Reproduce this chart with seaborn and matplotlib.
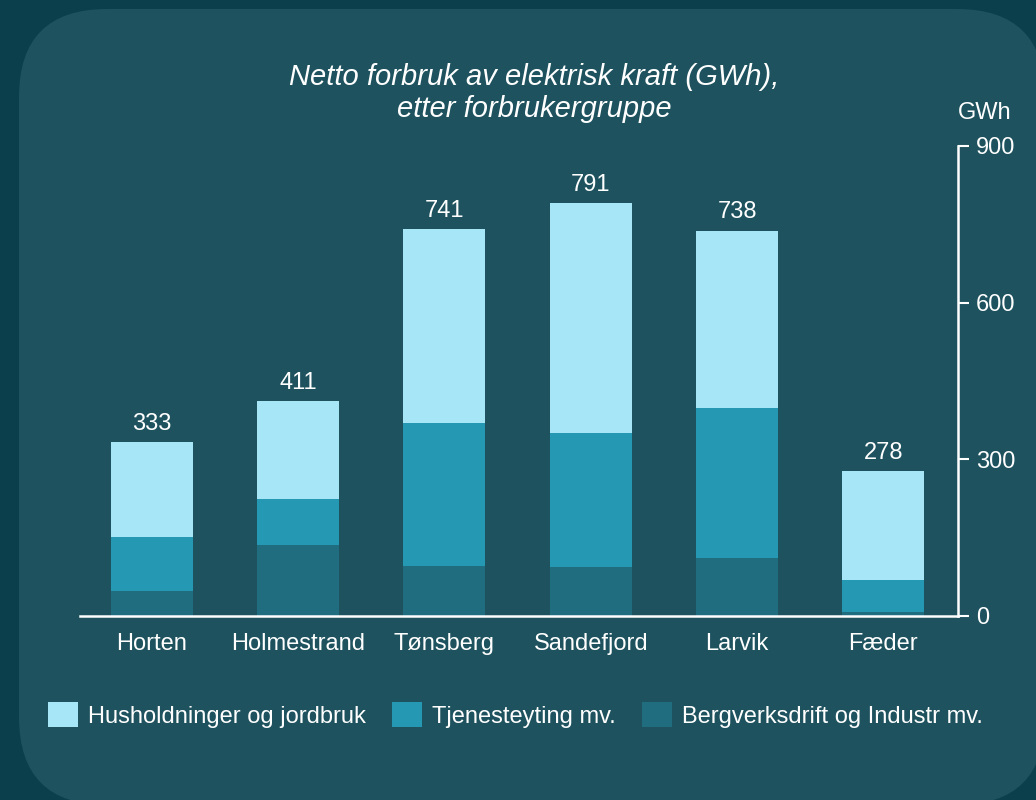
import matplotlib
matplotlib.use("Agg")
import matplotlib.pyplot as plt
import seaborn as sns
import pandas as pd
from matplotlib.patches import FancyBboxPatch, Patch

kommuner = ["Horten", "Holmestrand", "Tønsberg", "Sandefjord", "Larvik", "Fæder"]
industri = [48, 136, 96, 94, 111, 8]
tjeneste = [103, 88, 274, 256, 287, 61]
hushold = [182, 187, 371, 441, 340, 209]
totaler = [333, 411, 741, 791, 738, 278]
serier = ["Husholdninger og jordbruk", "Tjenesteyting mv.", "Bergverksdrift og Industr mv."]
y_ticks = [0, 300, 600, 900]

BG_OUT = "#0b3f4c"
BG_PANEL = "#1e525e"
C_LIGHT = "#a6e6f6"
C_MID = "#2598b4"
C_DARK = "#216d80"
FONT = "Liberation Sans"
FS = 17

sns.set_theme(style="white")
plt.rcParams["font.family"] = [FONT, "DejaVu Sans"]

W, H = 1036, 800
fig = plt.figure(figsize=(W / 100, H / 100), dpi=100)
fig.patch.set_facecolor(BG_OUT)

panel = FancyBboxPatch((19 / W, (H - 805) / H), (1045 - 19) / W, (805 - 9) / H,
                       boxstyle="round,pad=0,rounding_size=0.085",
                       transform=fig.transFigure, facecolor=BG_PANEL, edgecolor="none",
                       mutation_aspect=W / H, zorder=-5)
fig.patches.append(panel)

left, right, bottom, top = 80, 958, 616, 146
ax = fig.add_axes([left / W, 1 - bottom / H, (right - left) / W, (bottom - top) / H])
ax.set_zorder(2)
ax.set_facecolor("none")
ax.patch.set_alpha(0)

df = pd.DataFrame({
    "kommune": kommuner,
    "total": [a + b + c for a, b, c in zip(industri, tjeneste, hushold)],
    "mid": [a + b for a, b in zip(industri, tjeneste)],
    "ind": industri,
})

bw = 0.56
sns.barplot(data=df, x="kommune", y="total", color=C_LIGHT, width=bw, ax=ax,
            saturation=1, linewidth=0, order=kommuner)
sns.barplot(data=df, x="kommune", y="mid", color=C_MID, width=bw, ax=ax,
            saturation=1, linewidth=0, order=kommuner)
sns.barplot(data=df, x="kommune", y="ind", color=C_DARK, width=bw, ax=ax,
            saturation=1, linewidth=0, order=kommuner)

for i, t in enumerate(totaler):
    ax.text(i, t + 14, str(t), ha="center", va="bottom", color="white", fontsize=FS)

ax.set_xlim(-0.49, 5.51)
ax.set_ylim(0, 900)
ax.set_xlabel("")
ax.set_ylabel("")
ax.yaxis.tick_right()
ax.set_yticks(y_ticks)
ax.set_yticklabels([str(v) for v in y_ticks])
ax.tick_params(axis="y", colors="white", labelcolor="white", labelsize=FS,
               length=8, width=1.5, direction="out", pad=5, right=True, left=False)
ax.tick_params(axis="x", colors="white", labelcolor="white", labelsize=FS,
               length=0, pad=12)
for s in ["top", "left"]:
    ax.spines[s].set_visible(False)
for s in ["bottom", "right"]:
    ax.spines[s].set_visible(True)
    ax.spines[s].set_color("white")
    ax.spines[s].set_linewidth(1.8)
ax.grid(False)

fig.text(985 / W, 1 - 113 / H, "GWh", ha="center", va="center", color="white", fontsize=FS)
fig.text(534 / W, 1 - 93 / H, "Netto forbruk av elektrisk kraft (GWh),\netter forbrukergruppe",
         ha="center", va="center", color="white", fontsize=21, style="italic",
         linespacing=1.22)

handles = [Patch(facecolor=C_LIGHT, edgecolor="none"),
           Patch(facecolor=C_MID, edgecolor="none"),
           Patch(facecolor=C_DARK, edgecolor="none")]
leg = fig.legend(handles, serier, loc="center left", bbox_to_anchor=(48 / W, 1 - 715 / H),
                 ncol=3, frameon=False, fontsize=FS, labelcolor="white", borderpad=0,
                 borderaxespad=0, handlelength=1.27, handleheight=1.27,
                 handletextpad=0.43, columnspacing=1.1)

fig.savefig("out.png", dpi=100, facecolor=BG_OUT)
